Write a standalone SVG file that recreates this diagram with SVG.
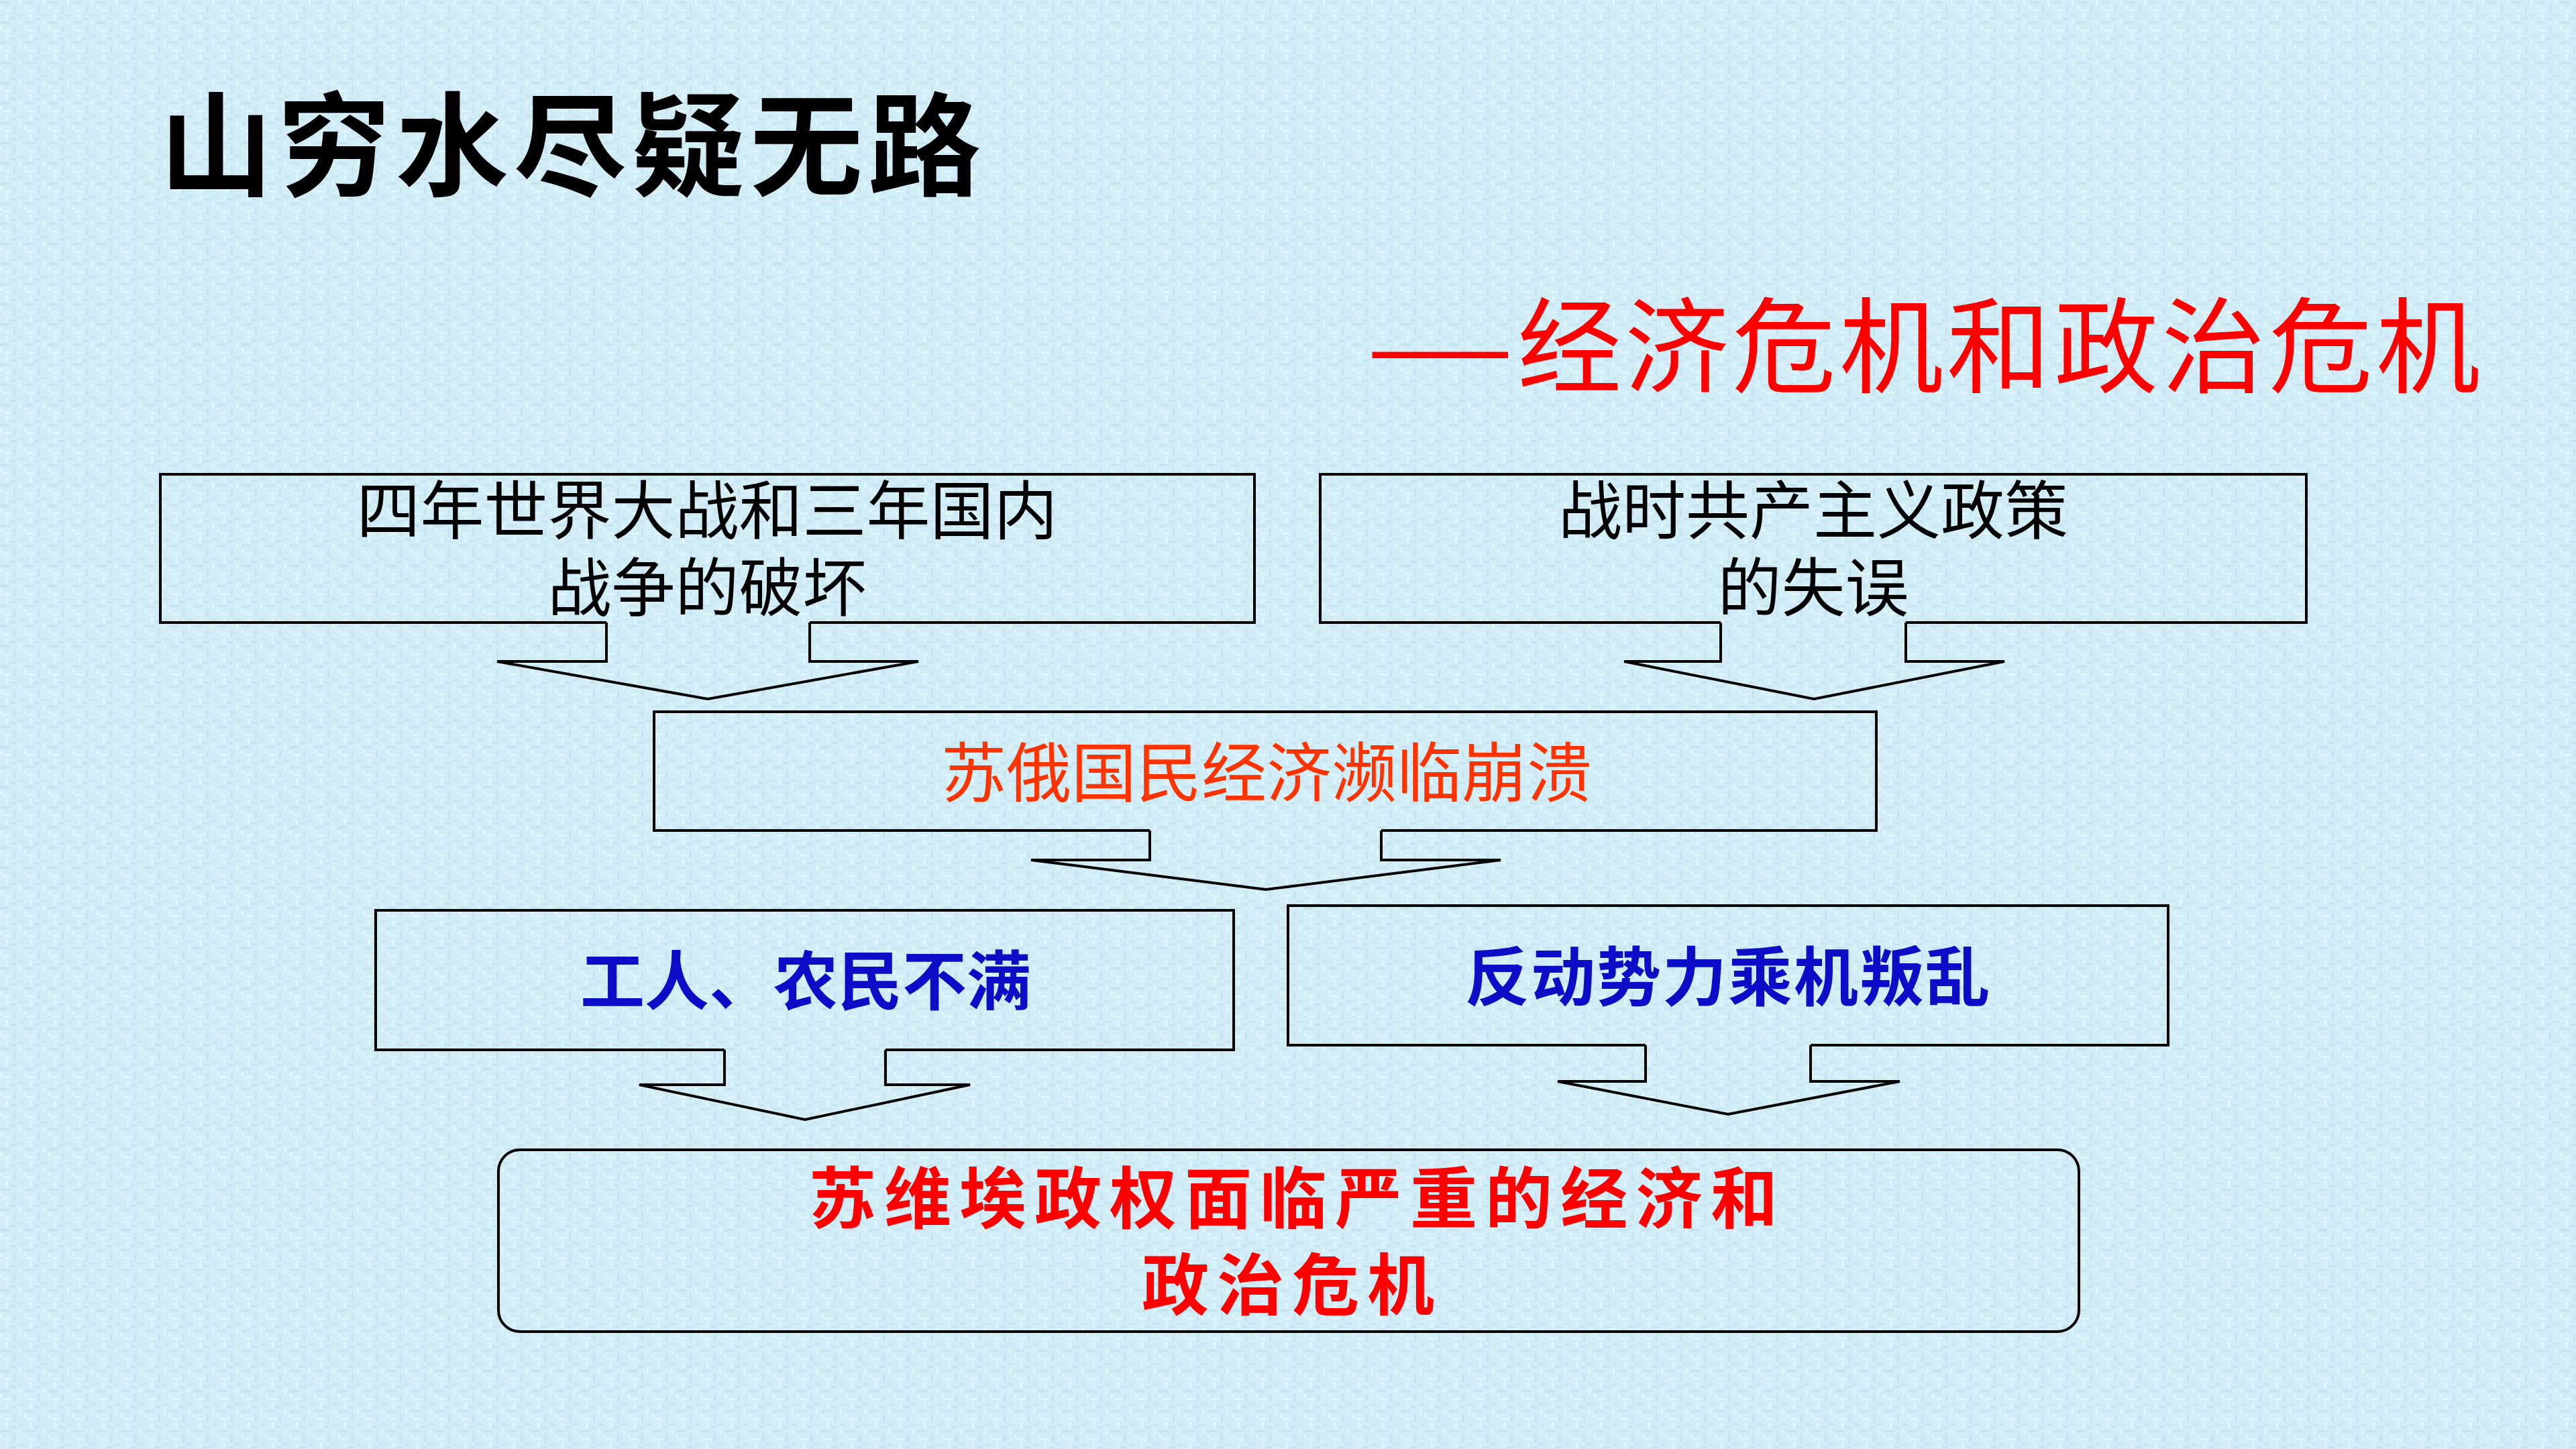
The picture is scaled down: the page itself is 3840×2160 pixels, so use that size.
<svg xmlns="http://www.w3.org/2000/svg" width="3840" height="2160" viewBox="0 0 3840 2160">
<defs>
<pattern id="tex" width="36" height="30" patternUnits="userSpaceOnUse">
<rect width="36" height="30" fill="#D2EDF6"/>
<rect x="0" y="2" width="14" height="3" fill="#C7E3EF"/>
<rect x="20" y="8" width="3" height="12" fill="#C7E3EF"/>
<rect x="4" y="14" width="12" height="3" fill="#DEF6FC"/>
<rect x="26" y="22" width="10" height="3" fill="#C9E5F0"/>
<rect x="9" y="20" width="3" height="9" fill="#DEF6FC"/>
<rect x="28" y="0" width="3" height="8" fill="#DEF6FC"/>
<rect x="15" y="26" width="9" height="3" fill="#C7E3EF"/>
<rect x="0" y="8" width="3" height="6" fill="#DEF6FC"/>
</pattern>
<style>
.box{fill:none;stroke:#000;stroke-width:4;stroke-linejoin:miter}
.arr{fill:none;stroke:#000;stroke-width:4;stroke-linejoin:miter}
.cjk{font-family:"Noto Sans CJK SC","Noto Sans CJK TC",sans-serif;text-anchor:middle}
.blk{fill:#000;font-size:95px}
.org{fill:#FF3300;font-size:97px}
.blu{fill:#0D0DC8;font-size:96px;font-weight:700}
.red{fill:#FF0000;font-size:100px;font-weight:700;letter-spacing:12px}
</style>
</defs>
<rect width="3840" height="2160" fill="url(#tex)"/>

<g id="title">
<text class="cjk" x="854" y="279" style="font-size:168px;font-weight:700;letter-spacing:8px;fill:#000">山穷水尽疑无路</text>
</g>
<g id="subtitle">
<text class="cjk" style="font-size:155px;fill:#FF0000;text-anchor:start"><tspan x="2034" y="573" textLength="226" lengthAdjust="spacingAndGlyphs">—</tspan><tspan x="2262" y="573" letter-spacing="5">经济危机和政治危机</tspan></text>
</g>

<g id="node-war">
<path class="box" d="M904,928 H239 V707 H1870 V928 H1207"/>
<text class="cjk blk" x="1054" y="796">四年世界大战和三年国内</text>
<text class="cjk blk" x="1054" y="911">战争的破坏</text>
</g>
<g id="node-policy">
<path class="box" d="M2565,928 H1968 V707 H3438 V928 H2841"/>
<text class="cjk blk" x="2703" y="796">战时共产主义政策</text>
<text class="cjk blk" x="2703" y="911">的失误</text>
</g>
<g id="node-economy">
<path class="box" d="M1714,1238 H975 V1061 H2797 V1238 H2059"/>
<text class="cjk org" x="1888" y="1187">苏俄国民经济濒临崩溃</text>
</g>
<g id="node-workers">
<path class="box" d="M1080,1565 H560 V1357 H1839 V1565 H1320"/>
<text class="cjk blu" x="1201" y="1497">工人、农民不满</text>
</g>
<g id="node-reaction">
<path class="box" d="M2453,1558 H1920 V1350 H3232 V1558 H2699"/>
<text class="cjk blu" x="2576" y="1491" letter-spacing="2">反动势力乘机叛乱</text>
</g>
<g id="node-crisis">
<rect class="box" x="743" y="1714" width="2356" height="271" rx="32" ry="32"/>
<text class="cjk red" x="1934" y="1823">苏维埃政权面临严重的经济和</text>
<text class="cjk red" x="1926" y="1952">政治危机</text>
</g>

<g id="connectors">
<path class="arr" d="M904,928 V986 H741 L1055,1042 L1369,986 H1207 V928"/>
<path class="arr" d="M2565,928 V986 H2421 L2704,1042 L2988,986 H2841 V928"/>
<path class="arr" d="M1714,1238 V1282 H1537 L1887,1326 L2237,1282 H2059 V1238"/>
<path class="arr" d="M1080,1565 V1617 H953 L1200,1669 L1446,1617 H1320 V1565"/>
<path class="arr" d="M2453,1558 V1612 H2322 L2576,1661 L2832,1612 H2699 V1558"/>
</g>
</svg>
